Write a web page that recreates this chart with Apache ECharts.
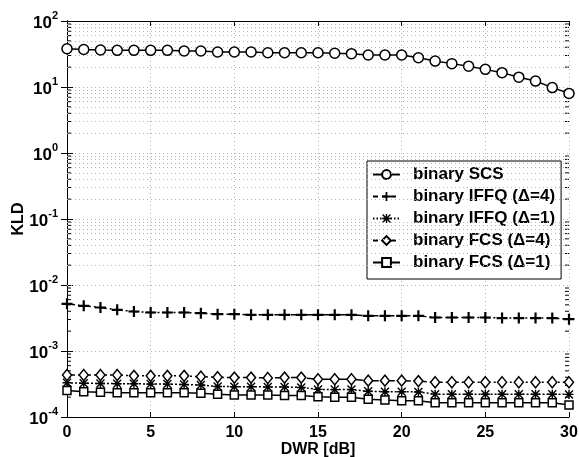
<!DOCTYPE html>
<html><head><meta charset="utf-8">
<script src="https://cdn.jsdelivr.net/npm/echarts@6/dist/echarts.min.js"></script>
<style>html,body{margin:0;padding:0;background:#fff}#c{width:579px;height:457px}</style>
</head><body><div id="c"></div>
<script>
const dwr = [0,1,2,3,4,5,6,7,8,9,10,11,12,13,14,15,16,17,18,19,20,21,22,23,24,25,26,27,28,29,30];
const scs = [38,37,36.3,35.9,35.9,35.9,35.9,35.1,35.1,33.9,33.9,33.9,33.1,33.1,33,33,32.4,32,30.5,30.5,30.5,27.8,24.7,22.6,20.7,18.5,16.5,14.1,12.3,9.8,8.0];
const iffq4 = [5.19e-3,4.83e-3,4.56e-3,4.2e-3,3.97e-3,3.83e-3,3.83e-3,3.83e-3,3.74e-3,3.61e-3,3.61e-3,3.53e-3,3.53e-3,3.53e-3,3.53e-3,3.53e-3,3.53e-3,3.53e-3,3.41e-3,3.41e-3,3.41e-3,3.41e-3,3.22e-3,3.22e-3,3.22e-3,3.22e-3,3.15e-3,3.15e-3,3.15e-3,3.15e-3,3.04e-3];
const iffq1 = [3.3e-4,3.25e-4,3.22e-4,3.2e-4,3.2e-4,3.15e-4,3.15e-4,3.1e-4,3.05e-4,2.9e-4,2.88e-4,2.88e-4,2.85e-4,2.85e-4,2.8e-4,2.62e-4,2.6e-4,2.6e-4,2.45e-4,2.42e-4,2.42e-4,2.4e-4,2.22e-4,2.21e-4,2.21e-4,2.21e-4,2.21e-4,2.21e-4,2.21e-4,2.21e-4,2.2e-4];
const fcs4 = [4.33e-4,4.33e-4,4.33e-4,4.33e-4,4.2e-4,4.2e-4,4.2e-4,4.2e-4,4.08e-4,4.0e-4,3.95e-4,3.95e-4,3.9e-4,3.95e-4,3.95e-4,3.73e-4,3.73e-4,3.73e-4,3.55e-4,3.55e-4,3.55e-4,3.5e-4,3.36e-4,3.36e-4,3.36e-4,3.36e-4,3.36e-4,3.36e-4,3.36e-4,3.36e-4,3.36e-4];
const fcs1 = [2.51e-4,2.42e-4,2.37e-4,2.34e-4,2.34e-4,2.34e-4,2.34e-4,2.34e-4,2.29e-4,2.21e-4,2.16e-4,2.16e-4,2.16e-4,2.11e-4,2.11e-4,2.03e-4,1.99e-4,1.99e-4,1.85e-4,1.81e-4,1.77e-4,1.77e-4,1.65e-4,1.65e-4,1.65e-4,1.65e-4,1.65e-4,1.65e-4,1.65e-4,1.65e-4,1.52e-4];
const seriesNames = ['binary SCS','binary IFFQ (\u0394=4)','binary IFFQ (\u0394=1)','binary FCS (\u0394=4)','binary FCS (\u0394=1)'];
const xTicks = [0,5,10,15,20,25,30];
const yDecades = [1e-4,1e-3,1e-2,1e-1,1e0,1e1,1e2];
const yMinor = [];
for (let d = -4; d < 2; d++) for (let m = 2; m <= 9; m++) yMinor.push(+(m * Math.pow(10, d)).toPrecision(3));

const FONT = 'Liberation Sans, Arial, sans-serif';
const plusPath = 'path://M4,0h2v4h4v2h-4v4h-2v-4h-4v-2h4z';
const starPath = 'path://M0,4.2h10v1.6h-10zM4.2,0h1.6v10h-1.6zM0,1.1L1.1,0L10,8.9L8.9,10zM8.9,0L10,1.1L1.1,10L0,8.9z';
const GRID = '#b4b4b4';

const pair = arr => dwr.map((x, i) => [x, arr[i]]);
const hollow = {color: '#fff', borderColor: '#000', borderWidth: 1.5};
const filled = {color: '#000', borderWidth: 0};

const chart = echarts.init(document.getElementById('c'));
chart.setOption({
  animation: false,
  backgroundColor: '#fff',
  grid: {left: 67, right: 10, top: 21, bottom: 40, outerBoundsMode: 'none', containLabel: false},
  legend: {
    data: [
      {name: seriesNames[0]},
      {name: seriesNames[1], lineStyle: {type: [5, 4]}},
      {name: seriesNames[2], lineStyle: {type: [1.5, 2]}},
      {name: seriesNames[3], lineStyle: {type: [5, 4]}},
      {name: seriesNames[4]}
    ],
    orient: 'vertical',
    left: 367, top: 161,
    padding: [5, 6, 8, 5],
    itemGap: 5,
    itemWidth: 27, itemHeight: 11,
    backgroundColor: '#fff',
    borderColor: '#000', borderWidth: 1,
    textStyle: {fontFamily: FONT, fontSize: 17, fontWeight: 'bold', color: '#000', padding: [0, 0, 0, 8]}
  },
  xAxis: [{
    type: 'value', min: 0, max: 30, interval: 5,
    name: 'DWR [dB]', nameLocation: 'middle', nameGap: 25, nameMoveOverlap: false,
    nameTextStyle: {fontFamily: FONT, fontSize: 16, fontWeight: 'bold', color: '#000'},
    axisLine: {lineStyle: {color: '#000', width: 1}},
    axisTick: {inside: true, length: 5, lineStyle: {color: '#000'}},
    axisLabel: {fontFamily: FONT, fontSize: 16, fontWeight: 'bold', color: '#000', margin: 8,
      formatter: v => xTicks.includes(v) ? String(v) : ''},
    splitLine: {show: true, lineStyle: {color: GRID, type: [1, 3], width: 1}}
  }, {
    type: 'value', min: 0, max: 30, interval: 5, position: 'top',
    axisLine: {show: true, lineStyle: {color: '#000', width: 1}},
    axisTick: {inside: true, length: 5, lineStyle: {color: '#000'}},
    axisLabel: {show: false}, splitLine: {show: false}
  }],
  yAxis: [{
    type: 'log', logBase: 10, min: 1e-4, max: 1e2, splitNumber: 6,
    name: 'KLD', nameLocation: 'middle', nameGap: 40, nameMoveOverlap: false,
    nameTextStyle: {fontFamily: FONT, fontSize: 16, fontWeight: 'bold', color: '#000'},
    axisLine: {show: true, lineStyle: {color: '#000', width: 1}},
    axisTick: {inside: true, length: 6, lineStyle: {color: '#000'}},
    axisLabel: {
      margin: 9, color: '#000',
      formatter: v => '{b|10}{s|' + Math.round(Math.log10(v)) + '}',
      rich: {
        b: {fontFamily: FONT, fontSize: 17, fontWeight: 'bold', color: '#000', verticalAlign: 'bottom', lineHeight: 22},
        s: {fontFamily: FONT, fontSize: 11, fontWeight: 'bold', color: '#000', verticalAlign: 'top', lineHeight: 22, padding: [0, 0, 8, 0]}
      }
    },
    splitLine: {show: true, lineStyle: {color: GRID, type: [1, 3], width: 1}}
  }, {
    type: 'log', logBase: 10, min: 1e-4, max: 1e2, splitNumber: 6, position: 'right',
    axisLine: {show: true, lineStyle: {color: '#000', width: 1}},
    axisTick: {inside: true, length: 6, lineStyle: {color: '#000'}},
    axisLabel: {show: false}, splitLine: {show: false}
  }],
  series: [
    {
      name: 'minorgrid', type: 'line', data: [], silent: true,
      markLine: {
        silent: true, symbol: 'none', label: {show: false},
        lineStyle: {color: GRID, type: [1, 3], width: 1},
        data: yMinor.map(v => ({yAxis: v}))
      }
    },
    {
      name: 'minorticks', type: 'custom', silent: true,
      data: yMinor.map(v => [0, v]),
      renderItem: (params, api) => {
        const v = api.value(1);
        const a = api.coord([0, v]);
        const b = api.coord([30, v]);
        return {type: 'group', children: [
          {type: 'line', shape: {x1: a[0], y1: a[1], x2: a[0] + 4, y2: a[1]}, style: {stroke: '#000', lineWidth: 1}},
          {type: 'line', shape: {x1: b[0] - 4, y1: b[1], x2: b[0], y2: b[1]}, style: {stroke: '#000', lineWidth: 1}}
        ]};
      }
    },
    {name: seriesNames[0], type: 'line', data: pair(scs), symbol: 'circle', symbolSize: 10,
      lineStyle: {color: '#000', width: 1.5}, itemStyle: hollow, z: 5},
    {name: seriesNames[1], type: 'line', data: pair(iffq4), symbol: plusPath, symbolSize: 11,
      lineStyle: {color: '#000', width: 1.5, type: [8, 3, 2, 3]}, itemStyle: filled, z: 5},
    {name: seriesNames[2], type: 'line', data: pair(iffq1), symbol: starPath, symbolSize: 9,
      lineStyle: {color: '#000', width: 1.5, type: [2, 2]}, itemStyle: filled, z: 5},
    {name: seriesNames[3], type: 'line', data: pair(fcs4), symbol: 'diamond', symbolSize: [9, 11],
      lineStyle: {color: '#000', width: 1.5, type: [8, 3, 2, 3]}, itemStyle: hollow, z: 5},
    {name: seriesNames[4], type: 'line', data: pair(fcs1), symbol: 'rect', symbolSize: 8,
      lineStyle: {color: '#000', width: 1.5}, itemStyle: hollow, z: 5}
  ]
});
</script></body></html>
